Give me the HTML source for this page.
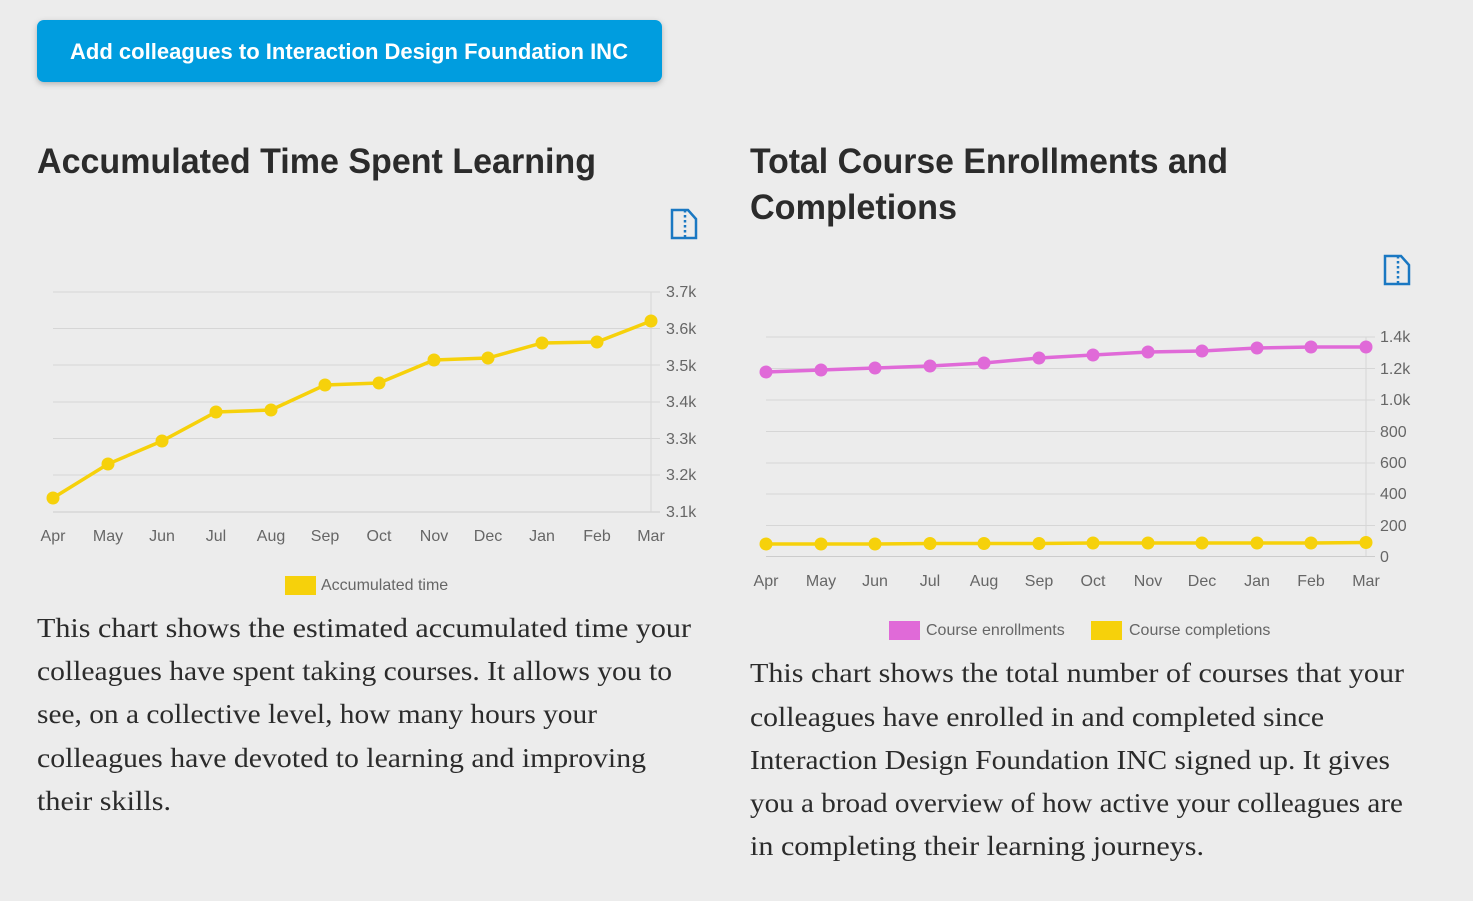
<!DOCTYPE html>
<html><head><meta charset="utf-8"><style>
html,body{margin:0;padding:0;background:#ececec;}
svg{display:block}
.t{font-family:"Liberation Sans",sans-serif;font-weight:bold;fill:#2b2b2b;font-size:35px}
.b{font-family:"Liberation Serif",serif;fill:#2b2b2b;font-size:27px}
.a{font-family:"Liberation Sans",sans-serif;fill:#666;font-size:16px}
.g{stroke:#d6d6d6;stroke-width:1}
</style></head><body>
<svg width="1473" height="901" viewBox="0 0 1473 901" xmlns="http://www.w3.org/2000/svg">
<defs><filter id="sh" x="-5%" y="-20%" width="110%" height="150%"><feDropShadow dx="0" dy="2" stdDeviation="3" flood-color="#000" flood-opacity="0.25"/></filter></defs>
<rect x="0" y="0" width="1473" height="901" fill="#ececec"/>
<rect x="37" y="20" width="625" height="62" rx="7" fill="#039ddf" filter="url(#sh)"/>
<text x="70" y="59" font-family="Liberation Sans,sans-serif" font-weight="bold" font-size="22" fill="#fff" textLength="558" lengthAdjust="spacingAndGlyphs">Add colleagues to Interaction Design Foundation INC</text>

<text class="t" x="37" y="173" textLength="559" lengthAdjust="spacingAndGlyphs">Accumulated Time Spent Learning</text>
<text class="t" x="750" y="173" textLength="478" lengthAdjust="spacingAndGlyphs">Total Course Enrollments and</text>
<text class="t" x="750" y="219" textLength="207" lengthAdjust="spacingAndGlyphs">Completions</text>

<!-- icons -->
<g fill="none" stroke="#1a78c2" stroke-width="2.5">
<path d="M672 210 H688 L696 219 V238 H672 Z"/>
<path d="M685 210 V238" stroke-dasharray="2.5 2.5"/>
<path d="M1385 256 H1401 L1409 265 V284 H1385 Z"/>
<path d="M1398 256 V284" stroke-dasharray="2.5 2.5"/>
</g>

<!-- left chart -->
<g class="g">
<line x1="53" x2="660" y1="292" y2="292"/><line x1="53" x2="660" y1="328.5" y2="328.5"/>
<line x1="53" x2="660" y1="365" y2="365"/><line x1="53" x2="660" y1="402" y2="402"/>
<line x1="53" x2="660" y1="438.5" y2="438.5"/><line x1="53" x2="660" y1="475" y2="475"/>
<line x1="53" x2="660" y1="512" y2="512" stroke="#ccc"/>
<line x1="651" x2="651" y1="292" y2="512"/>
</g>
<g class="a">
<text x="666" y="297">3.7k</text><text x="666" y="334">3.6k</text><text x="666" y="371">3.5k</text><text x="666" y="407">3.4k</text><text x="666" y="444">3.3k</text><text x="666" y="480">3.2k</text><text x="666" y="517">3.1k</text>
</g>
<g class="a" text-anchor="middle">
<text x="53" y="541">Apr</text><text x="108" y="541">May</text><text x="162" y="541">Jun</text><text x="216" y="541">Jul</text><text x="271" y="541">Aug</text><text x="325" y="541">Sep</text><text x="379" y="541">Oct</text><text x="434" y="541">Nov</text><text x="488" y="541">Dec</text><text x="542" y="541">Jan</text><text x="597" y="541">Feb</text><text x="651" y="541">Mar</text>
</g>
<polyline fill="none" stroke="#f6d10b" stroke-width="3.5" points="53,498 108,464 162,441 216,412 271,410 325,385 379,383 434,360 488,358 542,343 597,342 651,321"/>
<g fill="#f6d10b">
<circle cx="53" cy="498" r="6.5"/><circle cx="108" cy="464" r="6.5"/><circle cx="162" cy="441" r="6.5"/><circle cx="216" cy="412" r="6.5"/><circle cx="271" cy="410" r="6.5"/><circle cx="325" cy="385" r="6.5"/><circle cx="379" cy="383" r="6.5"/><circle cx="434" cy="360" r="6.5"/><circle cx="488" cy="358" r="6.5"/><circle cx="542" cy="343" r="6.5"/><circle cx="597" cy="342" r="6.5"/><circle cx="651" cy="321" r="6.5"/>
<rect x="285" y="576" width="31" height="19"/>
</g>
<text class="a" x="321" y="590">Accumulated time</text>

<!-- right chart -->
<g class="g">
<line x1="766" x2="1375" y1="337" y2="337"/><line x1="766" x2="1375" y1="368.5" y2="368.5"/>
<line x1="766" x2="1375" y1="400" y2="400"/><line x1="766" x2="1375" y1="431.5" y2="431.5"/>
<line x1="766" x2="1375" y1="463" y2="463"/><line x1="766" x2="1375" y1="494" y2="494"/>
<line x1="766" x2="1375" y1="525.5" y2="525.5"/>
<line x1="766" x2="1375" y1="556.5" y2="556.5" stroke="#ccc"/>
<line x1="1366" x2="1366" y1="337" y2="556"/>
</g>
<g class="a">
<text x="1380" y="342">1.4k</text><text x="1380" y="374">1.2k</text><text x="1380" y="405">1.0k</text><text x="1380" y="437">800</text><text x="1380" y="468">600</text><text x="1380" y="499">400</text><text x="1380" y="531">200</text><text x="1380" y="562">0</text>
</g>
<g class="a" text-anchor="middle">
<text x="766" y="586">Apr</text><text x="821" y="586">May</text><text x="875" y="586">Jun</text><text x="930" y="586">Jul</text><text x="984" y="586">Aug</text><text x="1039" y="586">Sep</text><text x="1093" y="586">Oct</text><text x="1148" y="586">Nov</text><text x="1202" y="586">Dec</text><text x="1257" y="586">Jan</text><text x="1311" y="586">Feb</text><text x="1366" y="586">Mar</text>
</g>
<polyline fill="none" stroke="#e06ad8" stroke-width="3.5" points="766,372 821,370 875,368 930,366 984,363 1039,358 1093,355 1148,352 1202,351 1257,348 1311,347 1366,347"/>
<g fill="#e06ad8">
<circle cx="766" cy="372" r="6.5"/><circle cx="821" cy="370" r="6.5"/><circle cx="875" cy="368" r="6.5"/><circle cx="930" cy="366" r="6.5"/><circle cx="984" cy="363" r="6.5"/><circle cx="1039" cy="358" r="6.5"/><circle cx="1093" cy="355" r="6.5"/><circle cx="1148" cy="352" r="6.5"/><circle cx="1202" cy="351" r="6.5"/><circle cx="1257" cy="348" r="6.5"/><circle cx="1311" cy="347" r="6.5"/><circle cx="1366" cy="347" r="6.5"/>
<rect x="889" y="621" width="31" height="19"/>
</g>
<polyline fill="none" stroke="#f6d10b" stroke-width="3.5" points="766,544 821,544 875,544 930,543.5 984,543.5 1039,543.5 1093,543 1148,543 1202,543 1257,543 1311,543 1366,542.5"/>
<g fill="#f6d10b">
<circle cx="766" cy="544" r="6.5"/><circle cx="821" cy="544" r="6.5"/><circle cx="875" cy="544" r="6.5"/><circle cx="930" cy="543.5" r="6.5"/><circle cx="984" cy="543.5" r="6.5"/><circle cx="1039" cy="543.5" r="6.5"/><circle cx="1093" cy="543" r="6.5"/><circle cx="1148" cy="543" r="6.5"/><circle cx="1202" cy="543" r="6.5"/><circle cx="1257" cy="543" r="6.5"/><circle cx="1311" cy="543" r="6.5"/><circle cx="1366" cy="542.5" r="6.5"/>
<rect x="1091" y="621" width="31" height="19"/>
</g>
<text class="a" x="926" y="635">Course enrollments</text>
<text class="a" x="1129" y="635">Course completions</text>

<!-- body text -->
<text class="b" x="37" y="637" textLength="654" lengthAdjust="spacingAndGlyphs">This chart shows the estimated accumulated time your</text>
<text class="b" x="37" y="680" textLength="635" lengthAdjust="spacingAndGlyphs">colleagues have spent taking courses. It allows you to</text>
<text class="b" x="37" y="723" textLength="560" lengthAdjust="spacingAndGlyphs">see, on a collective level, how many hours your</text>
<text class="b" x="37" y="767" textLength="609" lengthAdjust="spacingAndGlyphs">colleagues have devoted to learning and improving</text>
<text class="b" x="37" y="810" textLength="134" lengthAdjust="spacingAndGlyphs">their skills.</text>

<text class="b" x="750" y="682" textLength="654" lengthAdjust="spacingAndGlyphs">This chart shows the total number of courses that your</text>
<text class="b" x="750" y="726" textLength="574" lengthAdjust="spacingAndGlyphs">colleagues have enrolled in and completed since</text>
<text class="b" x="750" y="769" textLength="640" lengthAdjust="spacingAndGlyphs">Interaction Design Foundation INC signed up. It gives</text>
<text class="b" x="750" y="812" textLength="653" lengthAdjust="spacingAndGlyphs">you a broad overview of how active your colleagues are</text>
<text class="b" x="750" y="855" textLength="454" lengthAdjust="spacingAndGlyphs">in completing their learning journeys.</text>
</svg>
</body></html>
